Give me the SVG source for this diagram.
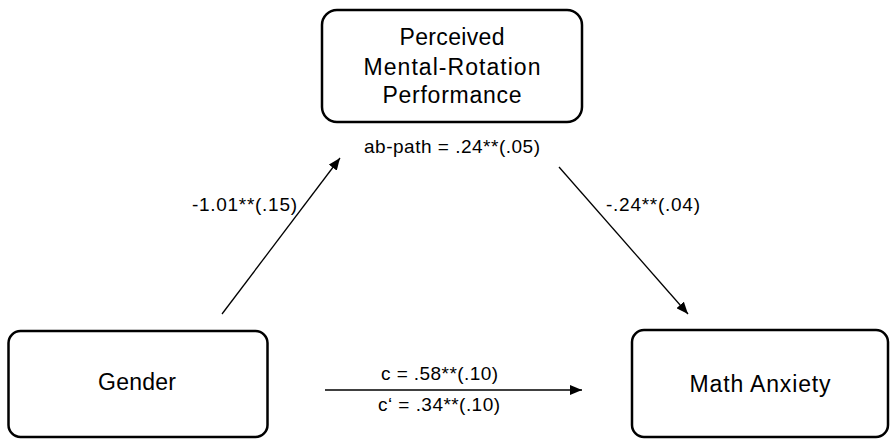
<svg xmlns="http://www.w3.org/2000/svg" width="890" height="439" viewBox="0 0 890 439">
<defs>
<style>
.box{fill:#fff;stroke:#000;stroke-width:2.5}
.nt{font-family:"Liberation Sans",Arial,sans-serif;font-size:23px;fill:#000;text-anchor:middle}
.lt{font-family:"Liberation Sans",Arial,sans-serif;font-size:19px;fill:#000;text-anchor:middle}
.ln{stroke:#000;stroke-width:1.3;fill:none;marker-end:url(#ah)}
</style>
<marker id="ah" viewBox="0 0 12 10" refX="12" refY="5" markerWidth="12" markerHeight="10" markerUnits="userSpaceOnUse" orient="auto">
<path d="M0,0 L12,5 L0,10 Z" fill="#000"/>
</marker>
</defs>
<rect width="890" height="439" fill="#fff"/>
<g id="node-perceived">
<rect class="box" x="322" y="10" width="260" height="112" rx="15"/>
<text class="nt" x="452" y="45" textLength="105">Perceived</text>
<text class="nt" x="452" y="75" textLength="177">Mental-Rotation</text>
<text class="nt" x="452" y="103" textLength="139">Performance</text>
</g>
<g id="node-gender">
<rect class="box" x="8.5" y="331" width="259" height="106" rx="12"/>
<text class="nt" x="137" y="390" textLength="78">Gender</text>
</g>
<g id="node-math">
<rect class="box" x="632" y="330" width="256" height="107" rx="12"/>
<text class="nt" x="760" y="392" textLength="141">Math Anxiety</text>
</g>
<g id="connectors">
<line class="ln" x1="222" y1="314" x2="340" y2="158"/>
<line class="ln" x1="559" y1="167" x2="688" y2="314"/>
<line class="ln" x1="325" y1="390" x2="582" y2="390"/>
</g>
<g id="labels">
<text class="lt" x="452" y="153" textLength="176">ab-path = .24**(.05)</text>
<text class="lt" x="244.5" y="211" textLength="105">-1.01**(.15)</text>
<text class="lt" x="653" y="211" textLength="94">-.24**(.04)</text>
<text class="lt" x="439.5" y="380" textLength="117">c = .58**(.10)</text>
<text class="lt" x="439" y="411" textLength="122">c‘ = .34**(.10)</text>
</g>
</svg>
